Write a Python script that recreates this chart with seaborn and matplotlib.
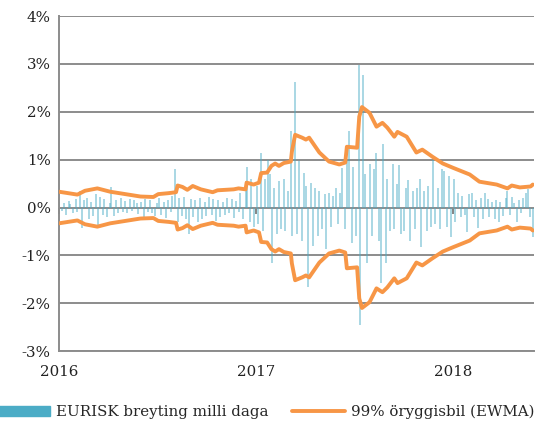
import pandas as pd
import numpy as np
import matplotlib
matplotlib.use("Agg")
import matplotlib.pyplot as plt
import seaborn as sns
from matplotlib.patches import Patch
from matplotlib.lines import Line2D

# daily change EURISK (%), every third business day from 2016-01-01
bars_2016 = [0.12, -0.08, 0.10, -0.15, 0.14, 0.08, -0.12, 0.18, -0.10, 0.35,
             -0.42, 0.15, 0.20, -0.24, 0.12, -0.18, 0.28, -0.38, 0.22, -0.15,
             0.18, -0.20, 0.10, 0.42, -0.17, 0.15, -0.12, 0.20, -0.10, 0.14,
             -0.12, 0.17, -0.08, 0.15, 0.10, -0.14, 0.12, -0.24, 0.18, -0.10,
             0.16, -0.12, -0.17, 0.10, 0.20, -0.15, 0.12, -0.22, 0.15, -0.10,
             0.25, 0.80, -0.30, 0.20, -0.18, 0.22, -0.25, -0.56, 0.18, -0.20,
             0.15, -0.30, 0.20, -0.25, 0.12, -0.18, 0.22, -0.15, 0.18, -0.28,
             0.15, -0.20, 0.12, -0.16, 0.20, -0.12, 0.18, -0.22, 0.14, -0.10,
             0.30, -0.25, 0.55, 0.85, -0.30, 0.60, -0.40]
bars_2017 = [0.45, -0.35, 1.15, -0.50, 0.60, 1.00, 0.70, -1.15, 0.40, -0.55,
             0.55, -0.45, 0.60, -0.50, 0.35, 1.60, -0.60, 2.63, -0.55, 0.97,
             -0.70, 0.73, 0.45, -1.67, 0.52, -0.80, 0.40, -0.60, 0.35, -0.45,
             0.28, -0.87, 0.30, -0.40, 0.25, 0.40, -0.35, 0.30, 0.83, -0.45,
             1.00, 1.60, -0.75, 0.85, -0.60, 2.98, -2.45, 2.77, 0.70, -1.17,
             0.92, -0.60, 0.80, 1.13, -0.70, -1.57, 1.33, -1.17, 0.60, -0.50,
             0.92, -0.45, 0.50, 0.88, -0.55, -0.50, 0.40, 0.57, -0.70, 0.35,
             -0.45, 0.40, 0.60, -0.82, 0.35, -0.50, 0.45, -0.40, 0.99, -0.35,
             0.40, -0.45, 0.81, 0.77, -0.40, 0.66, -0.62]
bars_2018 = [0.59, -0.30, 0.31, -0.20, 0.25, -0.15, -0.52, 0.28, 0.30, -0.20,
             0.15, -0.42, 0.20, -0.25, 0.30, 0.18, -0.20, 0.12, -0.25, 0.15,
             -0.31, 0.12, -0.18, 0.20, 0.35, -0.15, 0.22, 0.10, -0.30, 0.15,
             -0.12, 0.20, 0.30, 0.38, -0.20, -0.62]

# 99% EWMA band (upper side, lower side is the mirror)
band_dates = ["2016-01-01", "2016-02-04", "2016-02-18", "2016-03-12", "2016-04-05",
              "2016-05-31", "2016-06-24", "2016-07-03", "2016-07-22", "2016-08-05",
              "2016-08-08", "2016-08-17", "2016-08-26", "2016-09-05", "2016-09-20",
              "2016-10-12", "2016-10-21", "2016-11-20", "2016-11-29", "2016-12-12",
              "2016-12-14", "2016-12-27", "2017-01-06", "2017-01-10", "2017-01-21",
              "2017-01-29", "2017-02-05", "2017-02-12", "2017-02-21", "2017-03-06",
              "2017-03-08", "2017-03-14", "2017-03-27", "2017-04-03", "2017-04-09",
              "2017-04-28", "2017-05-16", "2017-06-04", "2017-06-15", "2017-06-18",
              "2017-07-07", "2017-07-11", "2017-07-16", "2017-07-30", "2017-08-12",
              "2017-08-23", "2017-09-01", "2017-09-14", "2017-09-20", "2017-10-07",
              "2017-10-25", "2017-11-05", "2017-11-24", "2017-12-13", "2018-01-01",
              "2018-02-01", "2018-02-19", "2018-03-23", "2018-04-12", "2018-04-20",
              "2018-05-05", "2018-05-25", "2018-05-29"]
band_vals = [0.33, 0.27, 0.35, 0.40, 0.33,
             0.23, 0.22, 0.28, 0.30, 0.32,
             0.46, 0.43, 0.37, 0.45, 0.38,
             0.32, 0.36, 0.38, 0.40, 0.38,
             0.52, 0.48, 0.52, 0.72, 0.73,
             0.87, 0.92, 0.87, 0.93, 0.96,
             1.17, 1.52, 1.46, 1.42, 1.46,
             1.15, 0.96, 0.90, 0.94, 1.27,
             1.25, 1.90, 2.10, 1.98, 1.69,
             1.77, 1.67, 1.48, 1.58, 1.48,
             1.15, 1.21, 1.06, 0.92, 0.83,
             0.69, 0.54, 0.48, 0.40, 0.46,
             0.42, 0.44, 0.48]

years = [2016, 2017, 2018]
blue = "#4BACC6"
orange = "#F79646"

bar_vals = bars_2016 + bars_2017 + bars_2018
bar_dates = pd.bdate_range("2016-01-01", periods=3 * len(bar_vals))[::3]
bars = pd.DataFrame({"date": bar_dates, "chg": bar_vals})
band = pd.DataFrame({"date": pd.to_datetime(band_dates), "up": band_vals})
band["down"] = -band["up"]

sns.set_style("white")
plt.rcParams["font.family"] = ["DejaVu Serif"]
plt.rcParams["font.size"] = 10.8

fig, ax = plt.subplots(figsize=(5.47, 4.25), dpi=100)
fig.subplots_adjust(left=0.108, right=0.976, top=0.962, bottom=0.174)

ax.vlines(bars["date"], 0, bars["chg"], color=blue, lw=1.1, alpha=0.6, zorder=2)
sns.lineplot(data=band, x="date", y="up", color=orange, lw=2.8, ax=ax, zorder=3)
sns.lineplot(data=band, x="date", y="down", color=orange, lw=2.8, ax=ax, zorder=3)

ax.set_ylim(-3, 4)
ax.set_yticks(range(-3, 5))
ax.set_yticklabels([f"{v}%" for v in range(-3, 5)])
ax.set_xlim(pd.Timestamp("2016-01-01"), pd.Timestamp("2018-05-31"))
ax.set_xticks([pd.Timestamp(f"{y}-01-01") for y in years])
ax.set_xticklabels([str(y) for y in years])
ax.set_xlabel("")
ax.set_ylabel("")
ax.yaxis.grid(True, color="#8c8c8c", lw=1.4, zorder=0)
ax.set_axisbelow(True)
for s in ["top", "right"]:
    ax.spines[s].set_visible(False)
ax.spines["left"].set_color("#8c8c8c")
ax.spines["left"].set_linewidth(1.4)
ax.spines["bottom"].set_color("#8c8c8c")
ax.spines["bottom"].set_linewidth(1.4)
ax.tick_params(axis="both", length=0, pad=6, colors="#222222")
ax.tick_params(axis="x", pad=10)

# small year ticks on the zero line
zero_frac = (0 - ax.get_ylim()[0]) / (ax.get_ylim()[1] - ax.get_ylim()[0])
sec = ax.secondary_xaxis(zero_frac)
sec.set_xticks([pd.Timestamp(f"{y}-01-01") for y in years])
sec.set_xticklabels([])
sec.tick_params(direction="out", length=4, width=1.2, colors="#707070")
sec.spines["bottom"].set_visible(False)

handles = [Patch(color=blue), Line2D([0], [0], color=orange, lw=2.8)]
labels = ["EURISK breyting milli daga", "99% öryggisbil (EWMA)"]
fig.legend(handles, labels, loc="center left", bbox_to_anchor=(-0.005, 0.03), ncol=2,
           frameon=False, handlelength=3.5, handletextpad=0.4, columnspacing=1.6,
           borderpad=0, borderaxespad=0)

plt.savefig("out.png", dpi=100)
